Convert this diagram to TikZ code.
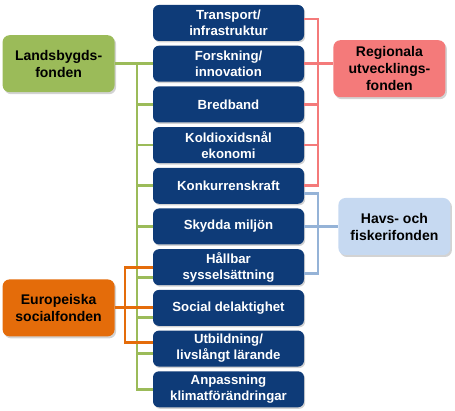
\documentclass[tikz,border=0pt]{standalone}
\usepackage{fontspec}
\setmainfont{Liberation Sans}
\usetikzlibrary{positioning,shadows}

\definecolor{navy}{HTML}{0E3B78}
\definecolor{ldgreen}{HTML}{9BBB59}
\definecolor{regred}{HTML}{F47A7A}
\definecolor{esforange}{HTML}{E46C0A}
\definecolor{havsblue}{HTML}{C6D9F1}
\definecolor{havsline}{HTML}{95B3D7}

\begin{document}
\begin{tikzpicture}[x=1pt, y=-1pt, node distance=4.3pt,
    area/.style={rectangle, rounded corners=6pt, fill=navy, text=white, minimum width=151pt, minimum height=36pt, inner sep=2pt, align=center, font=\fontsize{13.2}{16}\selectfont\bfseries, drop shadow={shadow xshift=1.2pt, shadow yshift=-1.5pt, opacity=0.35}},
    fund/.style={rectangle, rounded corners=7pt, minimum width=112pt, minimum height=57pt, inner sep=2pt, align=center, font=\fontsize{14}{17}\selectfont\bfseries, drop shadow={shadow xshift=1.5pt, shadow yshift=-2pt, opacity=0.35}},
    gline/.style={draw=ldgreen, line width=2.8pt},
    oline/.style={draw=esforange, line width=2.8pt},
    rline/.style={draw=regred, line width=2.8pt},
    bline/.style={draw=havsline, line width=2.8pt}]
      \useasboundingbox (0,0) rectangle (455,411);

      % thematic areas
      \node[area] (b1) at (228.5,23) {Transport/\\infrastruktur};
      \node[area, below=of b1] (b2) {Forskning/\\innovation};
      \node[area, below=of b2] (b3) {Bredband};
      \node[area, below=of b3] (b4) {Koldioxidsnål\\ekonomi};
      \node[area, below=of b4] (b5) {Konkurrenskraft};
      \node[area, below=of b5] (b6) {Skydda miljön};
      \node[area, below=of b6] (b7) {Hållbar\\sysselsättning};
      \node[area, below=of b7] (b8) {Social delaktighet};
      \node[area, below=of b8] (b9) {Utbildning/\\livslångt lärande};
      \node[area, below=of b9] (b10) {Anpassning\\klimatförändringar};

      % funds
      \node[fund, fill=ldgreen, left=38pt of b2] (lands) {Landsbygds-\\fonden};
      \node[fund, fill=esforange, left=38pt of b8] (euro) {Europeiska\\socialfonden};
      \node[fund, fill=regred, right=29pt of b2, yshift=-5pt] (reg) {Regionala\\utvecklings-\\fonden};
      \node[fund, fill=havsblue, right=34pt of b6] (havs) {Havs- och\\fiskerifonden};

      % bus lines
      \coordinate (gbus) at (137,0);
      \coordinate (obus) at (125,0);
      \coordinate (rbus) at (318,0);
      \coordinate (g7) at ([yshift=-10pt]b7.west);
      \coordinate (g8) at ([yshift=-10pt]b8.west);
      \coordinate (g9) at ([yshift=-5pt]b9.west);
      \coordinate (o9) at ([yshift=6pt]b9.west);
      \coordinate (r1) at ([yshift=4pt]b1.east);
      \coordinate (bl5) at ([yshift=-8pt]b5.east);
      \coordinate (bl7) at ([yshift=-6pt]b7.east);

      % Landsbygdsfonden
      \draw[gline] (lands) -- (b2);
      \draw[gline] (gbus |- b2.west) -- (gbus |- b10.west) -- (b10.west);
      \draw[gline] (gbus |- b3.west) -- (b3.west);
      \draw[gline] (gbus |- b4.west) -- (b4.west);
      \draw[gline] (gbus |- b5.west) -- (b5.west);
      \draw[gline] (gbus |- b6.west) -- (b6.west);
      \draw[gline] (gbus |- g7) -- (g7);
      \draw[gline] (gbus |- g8) -- (g8);
      \draw[gline] (gbus |- g9) -- (g9);

      % Europeiska socialfonden
      \draw[oline] (b7.west) -- (obus |- b7.west) -- (obus |- o9) -- (o9);
      \draw[oline] (euro) -- (b8);

      % Regionala utvecklingsfonden
      \draw[rline] (r1) -- (rbus |- r1) -- (rbus |- b5.east) -- (b5.east);
      \draw[rline] (b2.east) -- (reg.west |- b2.east);
      \draw[rline] (b3.east) -- (rbus |- b3.east);
      \draw[rline] (b4.east) -- (rbus |- b4.east);

      % Havs- och fiskerifonden
      \draw[bline] (bl5) -- (rbus |- bl5) -- (rbus |- bl7) -- (bl7);
      \draw[bline] (b6) -- (havs);
    \end{tikzpicture}
\end{document}
